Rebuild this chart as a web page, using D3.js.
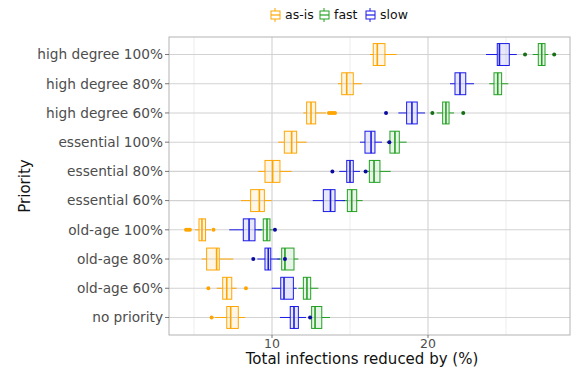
<!DOCTYPE html>
<html><head><meta charset="utf-8">
<script src="https://cdn.jsdelivr.net/npm/d3@7"></script>
<style>body{margin:0;background:#fff}svg{display:block;font-family:"DejaVu Sans",sans-serif}</style>
</head><body><svg id="c" width="572" height="373"></svg>
<script>
const categories = ["high degree 100%","high degree 80%","high degree 60%","essential 100%","essential 80%","essential 60%","old-age 100%","old-age 80%","old-age 60%","no priority"];
const seriesNames = ["as-is","fast","slow"];
const seriesColors = ["#FFA500","#22A022","#1A1AE6"];
const outlierColors = ["#FFA500","#157015","#0A0AA0"];
// [lower whisker, Q1, median, Q3, upper whisker] per category
const asisStats = [
  [16.28,16.49,16.75,17.24,17.99],
  [14.23,14.47,14.79,15.21,15.75],
  [12.01,12.22,12.50,12.80,13.46],
  [10.40,10.79,11.26,11.58,12.22],
  [9.12,9.55,10.04,10.51,11.26],
  [8.01,8.63,9.19,9.51,9.98],
  [5.06,5.32,5.51,5.74,6.09],
  [5.49,5.81,6.45,6.62,7.52],
  [6.46,6.84,7.10,7.42,7.74],
  [6.35,7.10,7.35,7.84,8.27]
];
const fastStats = [
  [26.71,27.07,27.29,27.50,27.71],
  [23.93,24.23,24.47,24.72,25.15],
  [20.56,20.94,21.15,21.35,21.67],
  [17.35,17.56,17.88,18.16,18.63],
  [16.09,16.24,16.54,16.92,17.61],
  [14.49,14.83,15.11,15.43,15.81],
  [9.08,9.44,9.68,9.87,10.06],
  [10.34,10.62,10.83,11.41,11.69],
  [11.69,12.01,12.24,12.48,12.97],
  [12.50,12.54,12.76,13.19,13.72]
];
const slowStats = [
  [23.72,24.44,24.58,25.21,25.69],
  [21.41,21.73,22.05,22.42,22.95],
  [18.10,18.63,18.97,19.31,19.81],
  [15.64,15.96,16.35,16.60,17.05],
  [14.31,14.79,15.00,15.21,15.64],
  [12.61,13.29,13.75,14.04,14.68],
  [7.26,8.16,8.53,8.91,9.34],
  [9.06,9.55,9.76,9.92,10.51],
  [9.98,10.56,10.77,11.37,11.58],
  [10.51,11.17,11.41,11.69,12.18]
];
const asisOutliers = [[],[],[13.65,13.78,13.91,14.04],[],[],[],[4.49,4.62,4.74,6.25],[],[5.92,8.33],[6.13]];
const fastOutliers = [[26.22,28.09],[],[20.28,22.26],[],[],[],[],[],[],[]];
const slowOutliers = [[],[],[17.31],[17.52],[13.87,16.00],[],[10.19],[8.80,10.83],[],[12.44]];
const xTicks = [10,20];
const xMinor = [5,15,25];

const statsAll = [asisStats, fastStats, slowStats];
const outAll = [asisOutliers, fastOutliers, slowOutliers];

const svg = d3.select("#c");
const L = 169, R = 570, T = 37, B = 335;
const x = d3.scaleLinear().domain([10,20]).range([272,428]);
const y = d3.scaleBand().domain(categories).range([T,B]).paddingOuter(0.1).paddingInner(0).align(0.5);
const yc = c => y(c) + y.bandwidth()/2;
const bw = y.bandwidth();

svg.append("rect").attr("x",L).attr("y",T).attr("width",R-L).attr("height",B-T).attr("fill","#fff");
svg.append("g").selectAll("line").data(xMinor).join("line")
  .attr("x1",d=>x(d)).attr("x2",d=>x(d)).attr("y1",T).attr("y2",B)
  .attr("stroke","#e8e8e8").attr("stroke-width",0.8);
svg.append("g").selectAll("line").data(xTicks).join("line")
  .attr("x1",d=>x(d)).attr("x2",d=>x(d)).attr("y1",T).attr("y2",B)
  .attr("stroke","#d2d2d2").attr("stroke-width",1.1);
svg.append("g").selectAll("line").data(categories).join("line")
  .attr("x1",L).attr("x2",R).attr("y1",d=>yc(d)).attr("y2",d=>yc(d))
  .attr("stroke","#d2d2d2").attr("stroke-width",1.1);

const bh = bw*0.75;
statsAll.forEach((stats,si)=>{
  const col = seriesColors[si];
  const g = svg.append("g");
  stats.forEach((s,ci)=>{
    const cy = yc(categories[ci]);
    g.append("line").attr("x1",x(s[0])).attr("x2",x(s[1])).attr("y1",cy).attr("y2",cy).attr("stroke",col).attr("stroke-width",1);
    g.append("line").attr("x1",x(s[3])).attr("x2",x(s[4])).attr("y1",cy).attr("y2",cy).attr("stroke",col).attr("stroke-width",1);
    g.append("rect").attr("x",x(s[1])).attr("y",cy-bh/2).attr("width",x(s[3])-x(s[1])).attr("height",bh)
      .attr("fill",col).attr("fill-opacity",0.1).attr("stroke",col).attr("stroke-width",1);
    g.append("line").attr("x1",x(s[2])).attr("x2",x(s[2])).attr("y1",cy-bh/2).attr("y2",cy+bh/2).attr("stroke",col).attr("stroke-width",1.6);
    outAll[si][ci].forEach(o=>{
      g.append("circle").attr("cx",x(o)).attr("cy",cy).attr("r",2).attr("fill",outlierColors[si]);
    });
  });
});

svg.append("rect").attr("x",L).attr("y",T).attr("width",R-L).attr("height",B-T).attr("fill","none").attr("stroke","#b3b3b3").attr("stroke-width",1);

const ya = svg.append("g");
categories.forEach(c=>{
  ya.append("line").attr("x1",L-4).attr("x2",L).attr("y1",yc(c)).attr("y2",yc(c)).attr("stroke","#555").attr("stroke-width",0.8);
  ya.append("text").attr("x",L-6).attr("y",yc(c)).attr("dy","0.35em").attr("text-anchor","end")
    .attr("font-size",13.7).attr("fill","#4d4d4d").text(c);
});
xTicks.forEach(t=>{
  svg.append("line").attr("x1",x(t)).attr("x2",x(t)).attr("y1",B).attr("y2",B+3).attr("stroke","#555").attr("stroke-width",0.8);
  svg.append("text").attr("x",x(t)).attr("y",B+13).attr("text-anchor","middle").attr("font-size",12.5).attr("fill","#4d4d4d").text(t);
});
svg.append("text").attr("x",362).attr("y",364).attr("text-anchor","middle").attr("font-size",15).attr("fill","#111").text("Total infections reduced by (%)");
svg.append("text").attr("transform",`translate(30,${(T+B)/2}) rotate(-90)`).attr("text-anchor","middle").attr("font-size",15).attr("fill","#111").text("Priority");

const lg = svg.append("g");
const legX = [271,320,366];
const textX = [285,334,380];
seriesNames.forEach((n,i)=>{
  const col = seriesColors[i];
  const kx = legX[i], ky = 15;
  lg.append("line").attr("x1",kx+4).attr("x2",kx+4).attr("y1",ky-7).attr("y2",ky+7).attr("stroke",col).attr("stroke-width",1);
  lg.append("rect").attr("x",kx).attr("y",ky-4).attr("width",9).attr("height",8).attr("fill","#fff").attr("stroke",col).attr("stroke-width",1);
  lg.append("line").attr("x1",kx).attr("x2",kx+9).attr("y1",ky).attr("y2",ky).attr("stroke",col).attr("stroke-width",1.2);
  lg.append("text").attr("x",textX[i]).attr("y",ky).attr("dy","0.35em").attr("font-size",12.5).attr("fill","#111").text(n);
});
</script></body></html>
